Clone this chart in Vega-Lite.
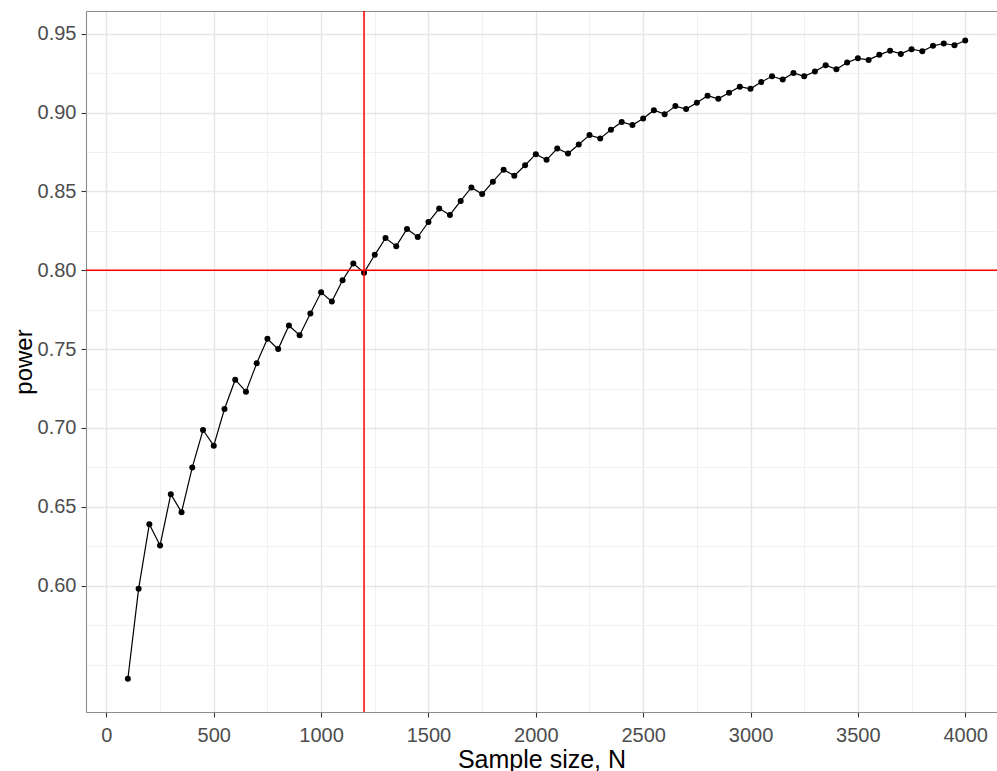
{
  "$schema": "https://vega.github.io/schema/vega-lite/v6.json",
  "autosize": {"type": "none"},
  "padding": {"left": 86, "top": 11, "right": 0, "bottom": 59},
  "width": 911,
  "height": 701,
  "background": "white",
  "config": {
    "view": {"stroke": null},
    "font": "Liberation Sans",
    "axis": {"labelFont": "Liberation Sans", "titleFont": "Liberation Sans"}
  },
  "resolve": {"axis": {"x": "independent"}},
  "layer": [
    {
      "data": {"name": "power", "values": [
        {"N": 100, "power": 0.541}, {"N": 150, "power": 0.598}, {"N": 200, "power": 0.639}, {"N": 250, "power": 0.6255},
        {"N": 300, "power": 0.658}, {"N": 350, "power": 0.6466}, {"N": 400, "power": 0.675}, {"N": 450, "power": 0.6987},
        {"N": 500, "power": 0.6888}, {"N": 550, "power": 0.712}, {"N": 600, "power": 0.7306}, {"N": 650, "power": 0.723},
        {"N": 700, "power": 0.741}, {"N": 750, "power": 0.7565}, {"N": 800, "power": 0.75}, {"N": 850, "power": 0.765},
        {"N": 900, "power": 0.7588}, {"N": 950, "power": 0.7726}, {"N": 1000, "power": 0.786}, {"N": 1050, "power": 0.7802},
        {"N": 1100, "power": 0.7937}, {"N": 1150, "power": 0.8043}, {"N": 1200, "power": 0.7985}, {"N": 1250, "power": 0.8098},
        {"N": 1300, "power": 0.8204}, {"N": 1350, "power": 0.8153}, {"N": 1400, "power": 0.8262}, {"N": 1450, "power": 0.8211},
        {"N": 1500, "power": 0.8306}, {"N": 1550, "power": 0.8391}, {"N": 1600, "power": 0.8351}, {"N": 1650, "power": 0.844},
        {"N": 1700, "power": 0.8525}, {"N": 1750, "power": 0.8483}, {"N": 1800, "power": 0.8562}, {"N": 1850, "power": 0.8638},
        {"N": 1900, "power": 0.86}, {"N": 1950, "power": 0.8666}, {"N": 2000, "power": 0.8736}, {"N": 2050, "power": 0.87},
        {"N": 2100, "power": 0.8772}, {"N": 2150, "power": 0.874}, {"N": 2200, "power": 0.8798}, {"N": 2250, "power": 0.8857},
        {"N": 2300, "power": 0.8836}, {"N": 2350, "power": 0.8891}, {"N": 2400, "power": 0.894}, {"N": 2450, "power": 0.8921},
        {"N": 2500, "power": 0.8962}, {"N": 2550, "power": 0.9015}, {"N": 2600, "power": 0.899}, {"N": 2650, "power": 0.9041},
        {"N": 2700, "power": 0.9022}, {"N": 2750, "power": 0.9062}, {"N": 2800, "power": 0.9107}, {"N": 2850, "power": 0.9087},
        {"N": 2900, "power": 0.9126}, {"N": 2950, "power": 0.9164}, {"N": 3000, "power": 0.9151}, {"N": 3050, "power": 0.9194},
        {"N": 3100, "power": 0.923}, {"N": 3150, "power": 0.9209}, {"N": 3200, "power": 0.9251}, {"N": 3250, "power": 0.923},
        {"N": 3300, "power": 0.926}, {"N": 3350, "power": 0.93}, {"N": 3400, "power": 0.9274}, {"N": 3450, "power": 0.9317},
        {"N": 3500, "power": 0.9344}, {"N": 3550, "power": 0.9334}, {"N": 3600, "power": 0.9366}, {"N": 3650, "power": 0.9392},
        {"N": 3700, "power": 0.9372}, {"N": 3750, "power": 0.9402}, {"N": 3800, "power": 0.9389}, {"N": 3850, "power": 0.9423},
        {"N": 3900, "power": 0.9438}, {"N": 3950, "power": 0.9427}, {"N": 4000, "power": 0.9457}
      ]},
      "mark": {"type": "line", "color": "black", "strokeWidth": 1.2},
      "encoding": {
        "x": {"field": "N", "type": "quantitative",
          "scale": {"domain": [-95, 4148], "nice": false, "zero": false},
          "axis": {
            "orient": "bottom",
            "values": [0, 250, 500, 750, 1000, 1250, 1500, 1750, 2000, 2250, 2500, 2750, 3000, 3250, 3500, 3750, 4000],
            "labelExpr": "datum.value % 500 == 0 ? format(datum.value, 'd') : ''",
            "grid": true,
            "gridColor": {"condition": {"test": "datum.value % 500 == 0", "value": "#E6E6E6"}, "value": "#EFEFEF"},
            "gridWidth": {"condition": {"test": "datum.value % 500 == 0", "value": 1.4}, "value": 0.9},
            "tickOpacity": {"condition": {"test": "datum.value % 500 == 0", "value": 1}, "value": 0},
            "tickColor": "#333333", "tickSize": 5, "tickWidth": 1.1,
            "domain": true, "domainColor": "#8C8C8C", "domainWidth": 1.1,
            "labelFontSize": 20, "labelColor": "#4D4D4D", "labelPadding": 8, "labelFlush": false,
            "labelOverlap": false,
            "title": "Sample size, N", "titleFontSize": 25, "titleFontWeight": "normal", "titleColor": "black", "titlePadding": 2
          }
        },
        "y": {"field": "power", "type": "quantitative",
          "scale": {"domain": [0.5199, 0.9644], "nice": false, "zero": false},
          "axis": {
            "values": [0.55, 0.575, 0.6, 0.625, 0.65, 0.675, 0.7, 0.725, 0.75, 0.775, 0.8, 0.825, 0.85, 0.875, 0.9, 0.925, 0.95],
            "labelExpr": "(datum.value > 0.57 && abs(datum.value*20 - round(datum.value*20)) < 0.001) ? format(datum.value, '.2f') : ''",
            "grid": true,
            "gridColor": {"condition": {"test": "datum.value > 0.57 && abs(datum.value*20 - round(datum.value*20)) < 0.001", "value": "#E6E6E6"}, "value": "#EFEFEF"},
            "gridWidth": {"condition": {"test": "datum.value > 0.57 && abs(datum.value*20 - round(datum.value*20)) < 0.001", "value": 1.4}, "value": 0.9},
            "tickOpacity": {"condition": {"test": "datum.value > 0.57 && abs(datum.value*20 - round(datum.value*20)) < 0.001", "value": 1}, "value": 0},
            "tickColor": "#333333", "tickSize": 5, "tickWidth": 1.1,
            "domain": true, "domainColor": "#8C8C8C", "domainWidth": 1.1,
            "labelFontSize": 20, "labelColor": "#4D4D4D", "labelPadding": 5, "labelOverlap": false,
            "title": "power", "titleFontSize": 24, "titleFontWeight": "normal", "titleColor": "black", "titlePadding": 1
          }
        }
      }
    },
    {
      "data": {"name": "power"},
      "mark": {"type": "point", "filled": true, "color": "black", "size": 36, "opacity": 1},
      "encoding": {
        "x": {"field": "N", "type": "quantitative", "axis": null},
        "y": {"field": "power", "type": "quantitative"}
      }
    },
    {
      "data": {"values": [{"power": 0.8}]},
      "mark": {"type": "rule", "color": "#FF0000", "strokeWidth": 1.5},
      "encoding": {
        "y": {"field": "power", "type": "quantitative"}
      }
    },
    {
      "data": {"values": [{"N": 1200}]},
      "mark": {"type": "rule", "color": "#FF0000", "strokeWidth": 1.5},
      "encoding": {
        "x": {"field": "N", "type": "quantitative",
          "axis": {"orient": "top", "labels": false, "ticks": false, "grid": false, "title": null,
            "domain": true, "domainColor": "#8C8C8C", "domainWidth": 1.1}
        }
      }
    }
  ]
}
